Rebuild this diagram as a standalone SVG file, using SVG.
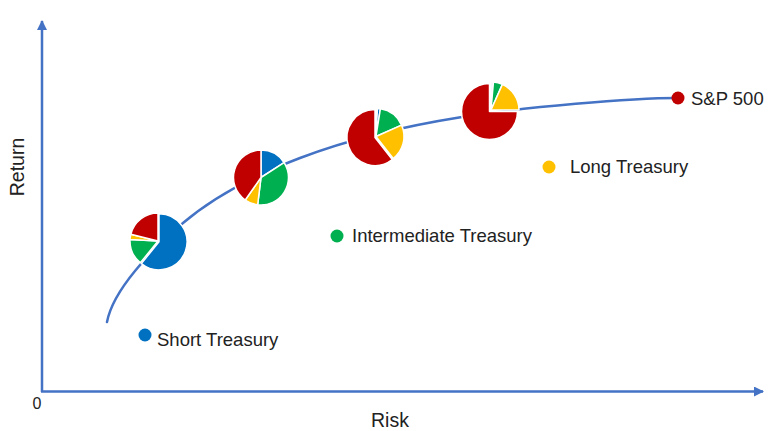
<svg xmlns="http://www.w3.org/2000/svg" width="775" height="431" viewBox="0 0 775 431">
<defs>
<style>
.ax{stroke:#4472C4;stroke-width:2.5;fill:none}
.cv{stroke:#4472C4;stroke-width:2.5;fill:none;stroke-linecap:round}
.s{stroke:#fff;stroke-width:1.5;stroke-linejoin:round}
.b{fill:#0070C0}.g{fill:#00B050}.y{fill:#FFC000}.r{fill:#C00000}.l{fill:#DDEBF7}
text{font-family:"Liberation Sans",Arial,sans-serif;fill:#222}
.lb{font-size:18.5px}
.axl{font-size:19.5px}
</style>
<marker id="arr" viewBox="0 0 10 10" refX="9" refY="5" markerWidth="4" markerHeight="4" orient="auto" markerUnits="strokeWidth">
<path d="M0,0 L10,5 L0,10 Z" fill="#4472C4"/>
</marker>
</defs>
<rect width="775" height="431" fill="#fff"/>
<g id="axes">
<line class="ax" x1="42" y1="392" x2="42" y2="21" marker-end="url(#arr)"/>
<line class="ax" x1="41" y1="391.5" x2="763" y2="391.5" marker-end="url(#arr)"/>
<text x="37" y="409" font-size="16" text-anchor="middle">0</text>
<text class="axl" x="390" y="427" text-anchor="middle">Risk</text>
<text class="axl" transform="translate(24,167) rotate(-90)" text-anchor="middle">Return</text>
</g>
<g id="connectors">
<path class="cv" d="M107,322 C113,290 150.8,250.3 183,223 C215.2,195.7 253.5,175.7 300,158 C346.5,140.3 399,127 462,117 C525,107 630,98 678,98"/>
</g>
<g id="pie1">
<path class="s b" transform="translate(1,0.8)" d="M158,241 L158,213 A28,28 0 1 1 140.38,262.76 Z"/>
<path class="s g" d="M158,241 L140.38,262.76 A28,28 0 0 1 130.04,239.54 Z"/>
<path class="s y" d="M158,241 L130.04,239.54 A28,28 0 0 1 130.83,234.23 Z"/>
<path class="s r" d="M158,241 L130.83,234.23 A28,28 0 0 1 158,213 Z"/>
</g>
<g id="pie2">
<path class="s b" d="M261,177.5 L261,150 A27.5,27.5 0 0 1 284.06,162.52 Z"/>
<path class="s g" d="M261,177.5 L284.06,162.52 A27.5,27.5 0 0 1 257.65,204.79 Z"/>
<path class="s y" d="M261,177.5 L257.65,204.79 A27.5,27.5 0 0 1 245.23,200.03 Z"/>
<path class="s r" d="M261,177.5 L245.23,200.03 A27.5,27.5 0 0 1 261,150 Z"/>
</g>
<g id="pie3">
<path class="s l" d="M376,136.5 L376,108.5 A28,28 0 0 1 377.46,108.54 Z"/>
<path class="s b" d="M376,136.5 L377.46,108.54 A28,28 0 0 1 380.38,108.84 Z"/>
<path class="s g" d="M376,136.5 L380.38,108.84 A28,28 0 0 1 401.58,125.11 Z"/>
<path class="s y" d="M376,136.5 L401.58,125.11 A28,28 0 0 1 393.24,158.56 Z"/>
<path class="s r" transform="translate(-1,1)" d="M376,136.5 L393.24,158.56 A28,28 0 1 1 376,108.5 Z"/>
</g>
<g id="pie4">
<path class="s l" d="M491,110 L491,82 A28,28 0 0 1 493.44,82.11 Z"/>
<path class="s g" d="M491,110 L493.44,82.11 A28,28 0 0 1 502.39,84.42 Z"/>
<path class="s y" d="M491,110 L502.39,84.42 A28,28 0 0 1 519,110 Z"/>
<path class="s r" transform="translate(-1.5,1.5)" d="M491,110 L519,110 A28,28 0 1 1 491,82 Z"/>
</g>
<g id="sp500">
<circle cx="678" cy="98" r="6.5" fill="#C00000"/>
<text class="lb" x="691" y="104.5">S&amp;P 500</text>
</g>
<g id="long-treasury">
<circle cx="549" cy="167" r="6.5" fill="#FFC000"/>
<text class="lb" x="570" y="172.5">Long Treasury</text>
</g>
<g id="intermediate-treasury">
<circle cx="337" cy="236" r="6.5" fill="#00B050"/>
<text class="lb" x="352" y="242">Intermediate Treasury</text>
</g>
<g id="short-treasury">
<circle cx="145" cy="335" r="6.5" fill="#0070C0"/>
<text class="lb" x="157" y="346">Short Treasury</text>
</g>
</svg>
